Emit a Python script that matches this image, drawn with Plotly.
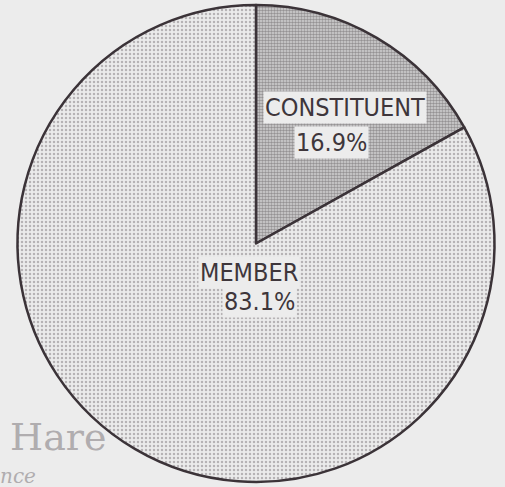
import plotly.graph_objects as go

categories = ["CONSTITUENT", "MEMBER"]
shares = [16.9, 83.1]

W, H = 505, 487

fig = go.Figure()
fig.add_trace(go.Pie(
    labels=categories,
    values=shares,
    sort=False,
    direction="clockwise",
    rotation=0,
    textinfo="none",
    hoverinfo="label+percent",
    showlegend=False,
    domain=dict(x=[17 / W, 495 / W], y=[1 - 482 / H, 1 - 5 / H]),
    marker=dict(
        colors=["#d8d8d8", "#e6e6e6"],
        line=dict(color="#3b3338", width=2.5),
        pattern=dict(
            shape=[".", "."],
            fgcolor=["#554f53", "#807a7e"],
            bgcolor=["#d4d4d4", "#ebebeb"],
            size=[3, 4],
            solidity=[0.55, 0.3],
            fillmode="overlay",
        ),
    ),
))

def px(x, y):
    return x / W, 1 - y / H

lab_font = dict(family="DejaVu Sans Condensed, sans-serif", size=25, color="#3e363b")
label_texts = [categories[0], f"{shares[0]}%", categories[1], f"{shares[1]}%"]
label_pos = [(345, 108), (331, 142), (249, 272), (259, 301)]
for txt, (x, y) in zip(label_texts, label_pos):
    ax, ay = px(x, y)
    fig.add_annotation(x=ax, y=ay, xref="paper", yref="paper", text=txt,
                       showarrow=False, font=lab_font, bgcolor="#ececec",
                       borderpad=1, xanchor="center", yanchor="middle")

hx, hy = px(8, 437)
fig.add_annotation(x=hx, y=hy, xref="paper", yref="paper", text="Hare",
                   showarrow=False, xanchor="left", yanchor="middle",
                   font=dict(family="DejaVu Serif", size=38, color="#b0adaf"))
nx, ny = px(-2, 476)
fig.add_annotation(x=nx, y=ny, xref="paper", yref="paper", text="<i>nce</i>",
                   showarrow=False, xanchor="left", yanchor="middle",
                   font=dict(family="DejaVu Serif", size=20, color="#b0adaf"))

fig.update_layout(
    width=W, height=H,
    margin=dict(l=0, r=0, t=0, b=0),
    paper_bgcolor="#ececec",
    plot_bgcolor="#ececec",
)

fig.write_html("out.html",
               config={"displayModeBar": False},
               post_script="document.body.style.margin='0';document.body.style.overflow='hidden';")
